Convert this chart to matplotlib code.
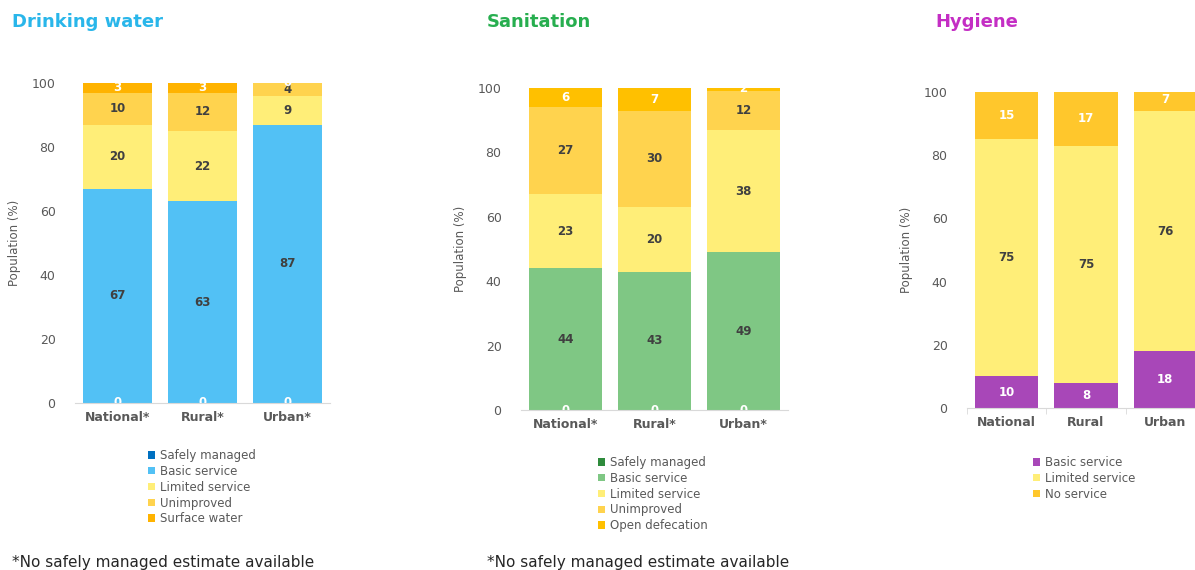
import matplotlib.pyplot as plt
import numpy as np
from matplotlib.patches import Patch

W, H = 1195, 570

places = ["National*", "Rural*", "Urban*"]
places_hyg = ["National", "Rural", "Urban"]

# drinking water service ladder (%)
water_levels = ["Safely managed", "Basic service", "Limited service", "Unimproved", "Surface water"]
water_safe = [0, 0, 0]
water_basic = [67, 63, 87]
water_limited = [20, 22, 9]
water_unimproved = [10, 12, 4]
water_surface = [3, 3, 0]

# sanitation service ladder (%)
san_levels = ["Safely managed", "Basic service", "Limited service", "Unimproved", "Open defecation"]
san_safe = [0, 0, 0]
san_basic = [44, 43, 49]
san_limited = [23, 20, 38]
san_unimproved = [27, 30, 12]
san_open = [6, 7, 2]

# hygiene service ladder (%)
hyg_levels = ["Basic service", "Limited service", "No service"]
hyg_basic = [10, 8, 18]
hyg_limited = [75, 75, 76]
hyg_none = [15, 17, 7]

GREY = "#595959"
DARK = "#404040"
WHITE = "#ffffff"


def px_axes(fig, left, right, top, bottom):
    # axes placed by pixel edges (top/bottom are y=100 and y=0)
    return fig.add_axes([left / W, 1 - bottom / H, (right - left) / W, (bottom - top) / H])


def stacked(ax, names, series, colors, label_colors, width, ticks=False):
    x = np.arange(len(names))
    base = np.zeros(len(names))
    handles = []
    for vals, col, lc in zip(series, colors, label_colors):
        vals = np.array(vals, dtype=float)
        bars = ax.bar(x, vals, width, bottom=base, color=col, linewidth=0)
        handles.append(bars)
        for xi, b, v in zip(x, base, vals):
            ax.text(xi, b + v / 2, f"{int(v)}", ha="center", va="center",
                    fontsize=8.5, fontweight="bold", color=lc, clip_on=True)
        base += vals
    ax.set_xlim(-0.5, len(names) - 0.5)
    ax.set_ylim(0, 100)
    ax.set_yticks([0, 20, 40, 60, 80, 100])
    ax.set_xticks(x)
    ax.set_xticklabels(names, fontsize=9, fontweight="bold", color=GREY)
    ax.tick_params(axis="y", length=0, labelsize=9, labelcolor=GREY, pad=14)
    ax.tick_params(axis="x", length=0, pad=6)
    if ticks:
        ax.set_xticks(np.arange(len(names) + 1) - 0.5, minor=True)
        ax.tick_params(axis="x", which="minor", length=4, color="#d9d9d9")
    for s in ["top", "right", "left"]:
        ax.spines[s].set_visible(False)
    ax.spines["bottom"].set_color("#d9d9d9")
    ax.set_ylabel("Population (%)", fontsize=8.5, color=GREY, labelpad=8)
    return handles


fig = plt.figure(figsize=(W / 100, H / 100), dpi=100)
fig.patch.set_facecolor("white")

# Drinking water
ax1 = px_axes(fig, 75, 330, 83, 403)
w_cols = ["#0070C0", "#52C1F5", "#FFEE78", "#FFD34E", "#FFB300"]
stacked(ax1, places,
        [water_safe, water_basic, water_limited, water_unimproved, water_surface],
        w_cols, [WHITE, DARK, DARK, DARK, WHITE], 0.81)

# Sanitation
ax2 = px_axes(fig, 521, 788, 88, 410)
s_cols = ["#2E8B3C", "#7FC784", "#FFEE78", "#FFD34E", "#FFC000"]
stacked(ax2, places,
        [san_safe, san_basic, san_limited, san_unimproved, san_open],
        s_cols, [WHITE, DARK, DARK, DARK, WHITE], 0.81)

# Hygiene
ax3 = px_axes(fig, 967, 1205, 92, 408)
h_cols = ["#A847B8", "#FFEE78", "#FFC72C"]
stacked(ax3, places_hyg, [hyg_basic, hyg_limited, hyg_none],
        h_cols, [WHITE, DARK, WHITE], 0.8, ticks=True)

# titles
fig.text(12 / W, 1 - 22 / H, "Drinking water", fontsize=13, fontweight="bold",
         color="#29B6EA", va="center")
fig.text(487 / W, 1 - 22 / H, "Sanitation", fontsize=13, fontweight="bold",
         color="#27AE4F", va="center")
fig.text(935 / W, 1 - 22 / H, "Hygiene", fontsize=13, fontweight="bold",
         color="#C42EC4", va="center")


def legend(levels, colors, x, y):
    hs = [Patch(facecolor=c, edgecolor="none") for c in colors]
    lg = fig.legend(hs, levels, loc="upper left", bbox_to_anchor=(x / W, 1 - y / H),
                    frameon=False, fontsize=8.5, handlelength=0.6, handleheight=0.6,
                    handletextpad=0.4, labelspacing=0.24, borderaxespad=0, borderpad=0)
    for t in lg.get_texts():
        t.set_color(GREY)


legend(water_levels, w_cols, 148, 449)
legend(san_levels, s_cols, 598, 456)
legend(hyg_levels, h_cols, 1033, 456)

fig.text(12 / W, 1 - 562 / H, "*No safely managed estimate available", fontsize=11,
         color="#262626", va="center")
fig.text(487 / W, 1 - 562 / H, "*No safely managed estimate available", fontsize=11,
         color="#262626", va="center")

fig.savefig("out.png", dpi=100)
